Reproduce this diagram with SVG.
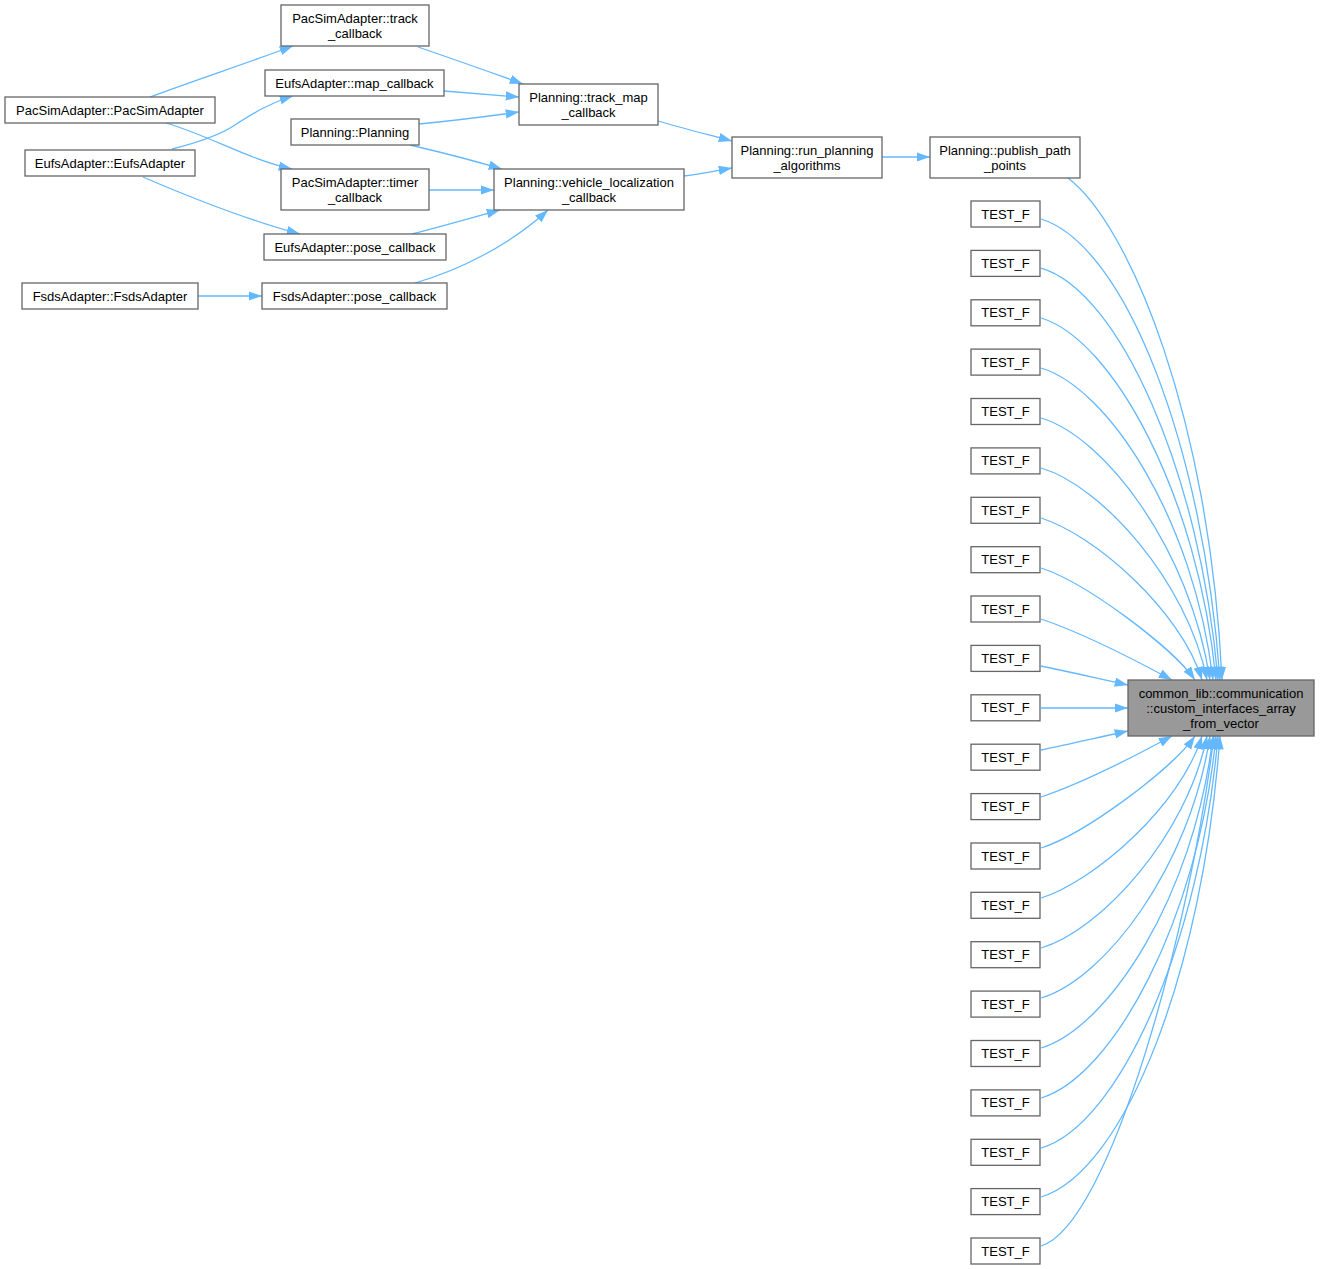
<svg xmlns="http://www.w3.org/2000/svg" width="1320" height="1269" viewBox="0 0 1320 1269">
<style>
.n rect{fill:#ffffff;stroke:#666666;stroke-width:1.3}
.n.main rect{fill:#999999}
.n text{font-family:"Liberation Sans",Arial,Helvetica,sans-serif;font-size:13px;fill:#000000;text-anchor:middle}
#edges path{fill:none;stroke:#63b8ff;stroke-width:1.3;marker-end:url(#ah)}
</style>
<defs>
<marker id="ah" markerWidth="14" markerHeight="10" refX="13.3" refY="4.7" orient="auto" markerUnits="userSpaceOnUse">
<polygon points="0,0 13.3,4.7 0,9.4" fill="#63b8ff" stroke="none"/>
</marker>
</defs>
<rect x="0" y="0" width="1320" height="1269" fill="#ffffff"/>
<g id="edges">
<path d="M150,97 C190,82 250,62 293,46"/>
<path d="M166,123 C210,136 250,160 292,169"/>
<path d="M172,149 C200,142 220,135 235,125 C255,112 270,103 293,96"/>
<path d="M143,177 C180,193 240,218 300,234"/>
<path d="M198,296 L262,296"/>
<path d="M418,47 C450,58 490,72 523,84"/>
<path d="M444,91 C470,93 495,95 519,97"/>
<path d="M419,124 C450,121 490,116 519,112"/>
<path d="M410,145 C440,152 475,161 502,169"/>
<path d="M429,190 L494,190"/>
<path d="M412,234 C440,227 475,217 500,210"/>
<path d="M415,283 C460,270 510,245 548,210"/>
<path d="M658,121 C685,129 710,135 732,141"/>
<path d="M684,176 C700,174 715,171 732,168"/>
<path d="M882,157 L930,157"/>
<path d="M1068,178 C1130,225 1210,420 1222,680"/>
<path d="M1041,219 C1125,245 1203,445 1220,680"/>
<path d="M1041,268 C1118,290 1200,470 1218,680"/>
<path d="M1041,318 C1112,339 1198,494 1216,680"/>
<path d="M1041,368 C1108,388 1194,519 1213,680"/>
<path d="M1041,418 C1105,437 1190,549 1210,680"/>
<path d="M1041,468 C1100,485 1187,580 1207,680"/>
<path d="M1041,518 C1095,535 1181,611 1202,680"/>
<path d="M1041,568 C1085,582 1172,647 1195,680"/>
<path d="M1041,619 C1080,632 1135,660 1172,680"/>
<path d="M1041,666 C1070,672 1100,679 1128,685"/>
<path d="M1041,708 L1128,708"/>
<path d="M1041,750 C1070,744 1100,737 1128,731"/>
<path d="M1041,797 C1080,784 1135,756 1172,736"/>
<path d="M1041,848 C1085,834 1172,769 1195,736"/>
<path d="M1041,898 C1095,881 1181,805 1202,736"/>
<path d="M1041,948 C1100,931 1187,836 1207,736"/>
<path d="M1041,998 C1105,979 1190,867 1210,736"/>
<path d="M1041,1048 C1108,1028 1194,897 1213,736"/>
<path d="M1041,1098 C1112,1077 1198,922 1216,736"/>
<path d="M1041,1148 C1118,1126 1200,946 1218,736"/>
<path d="M1041,1197 C1125,1171 1203,971 1220,736"/>
<path d="M1041,1246 C1110,1225 1190,930 1214,736"/>
</g>
<g id="n_pacsim_track" class="n"><rect x="281" y="5" width="148" height="41"/><text x="355" y="23">PacSimAdapter::track</text><text x="355" y="38">_callback</text></g>
<g id="n_eufs_map" class="n"><rect x="265" y="70" width="179" height="26"/><text x="354.5" y="87.5">EufsAdapter::map_callback</text></g>
<g id="n_planning" class="n"><rect x="291" y="119" width="128" height="26"/><text x="355" y="136.5">Planning::Planning</text></g>
<g id="n_pacsim_timer" class="n"><rect x="281" y="169" width="148" height="41"/><text x="355" y="187">PacSimAdapter::timer</text><text x="355" y="202">_callback</text></g>
<g id="n_eufs_pose" class="n"><rect x="264" y="234" width="182" height="26"/><text x="355" y="251.5">EufsAdapter::pose_callback</text></g>
<g id="n_fsds_pose" class="n"><rect x="262" y="283" width="185" height="26"/><text x="354.5" y="300.5">FsdsAdapter::pose_callback</text></g>
<g id="n_pacsim_ctor" class="n"><rect x="5" y="97" width="210" height="26"/><text x="110" y="114.5">PacSimAdapter::PacSimAdapter</text></g>
<g id="n_eufs_ctor" class="n"><rect x="25" y="150" width="170" height="26"/><text x="110" y="167.5">EufsAdapter::EufsAdapter</text></g>
<g id="n_fsds_ctor" class="n"><rect x="22" y="283" width="176" height="26"/><text x="110" y="300.5">FsdsAdapter::FsdsAdapter</text></g>
<g id="n_track_map" class="n"><rect x="519" y="84" width="139" height="41"/><text x="588.5" y="102">Planning::track_map</text><text x="588.5" y="117">_callback</text></g>
<g id="n_vehicle_loc" class="n"><rect x="494" y="169" width="190" height="41"/><text x="589" y="187">Planning::vehicle_localization</text><text x="589" y="202">_callback</text></g>
<g id="n_run_planning" class="n"><rect x="732" y="137" width="150" height="41"/><text x="807" y="155">Planning::run_planning</text><text x="807" y="170">_algorithms</text></g>
<g id="n_publish" class="n"><rect x="930" y="137" width="150" height="41"/><text x="1005" y="155">Planning::publish_path</text><text x="1005" y="170">_points</text></g>
<g id="n_main" class="n main"><rect x="1128" y="680" width="186" height="56"/><text x="1221" y="698">common_lib::communication</text><text x="1221" y="713">::custom_interfaces_array</text><text x="1221" y="728">_from_vector</text></g>
<g id="t01" class="n"><rect x="971" y="201" width="69" height="26"/><text x="1005.5" y="218.5">TEST_F</text></g>
<g id="t02" class="n"><rect x="971" y="250.4" width="69" height="26"/><text x="1005.5" y="267.9">TEST_F</text></g>
<g id="t03" class="n"><rect x="971" y="299.8" width="69" height="26"/><text x="1005.5" y="317.3">TEST_F</text></g>
<g id="t04" class="n"><rect x="971" y="349.1" width="69" height="26"/><text x="1005.5" y="366.6">TEST_F</text></g>
<g id="t05" class="n"><rect x="971" y="398.5" width="69" height="26"/><text x="1005.5" y="416">TEST_F</text></g>
<g id="t06" class="n"><rect x="971" y="447.9" width="69" height="26"/><text x="1005.5" y="465.4">TEST_F</text></g>
<g id="t07" class="n"><rect x="971" y="497.3" width="69" height="26"/><text x="1005.5" y="514.8">TEST_F</text></g>
<g id="t08" class="n"><rect x="971" y="546.7" width="69" height="26"/><text x="1005.5" y="564.2">TEST_F</text></g>
<g id="t09" class="n"><rect x="971" y="596" width="69" height="26"/><text x="1005.5" y="613.5">TEST_F</text></g>
<g id="t10" class="n"><rect x="971" y="645.4" width="69" height="26"/><text x="1005.5" y="662.9">TEST_F</text></g>
<g id="t11" class="n"><rect x="971" y="694.8" width="69" height="26"/><text x="1005.5" y="712.3">TEST_F</text></g>
<g id="t12" class="n"><rect x="971" y="744.2" width="69" height="26"/><text x="1005.5" y="761.7">TEST_F</text></g>
<g id="t13" class="n"><rect x="971" y="793.6" width="69" height="26"/><text x="1005.5" y="811.1">TEST_F</text></g>
<g id="t14" class="n"><rect x="971" y="843" width="69" height="26"/><text x="1005.5" y="860.5">TEST_F</text></g>
<g id="t15" class="n"><rect x="971" y="892.3" width="69" height="26"/><text x="1005.5" y="909.8">TEST_F</text></g>
<g id="t16" class="n"><rect x="971" y="941.7" width="69" height="26"/><text x="1005.5" y="959.2">TEST_F</text></g>
<g id="t17" class="n"><rect x="971" y="991.1" width="69" height="26"/><text x="1005.5" y="1008.6">TEST_F</text></g>
<g id="t18" class="n"><rect x="971" y="1040.5" width="69" height="26"/><text x="1005.5" y="1058">TEST_F</text></g>
<g id="t19" class="n"><rect x="971" y="1089.9" width="69" height="26"/><text x="1005.5" y="1107.4">TEST_F</text></g>
<g id="t20" class="n"><rect x="971" y="1139.3" width="69" height="26"/><text x="1005.5" y="1156.8">TEST_F</text></g>
<g id="t21" class="n"><rect x="971" y="1188.6" width="69" height="26"/><text x="1005.5" y="1206.1">TEST_F</text></g>
<g id="t22" class="n"><rect x="971" y="1238" width="69" height="26"/><text x="1005.5" y="1255.5">TEST_F</text></g>
</svg>
